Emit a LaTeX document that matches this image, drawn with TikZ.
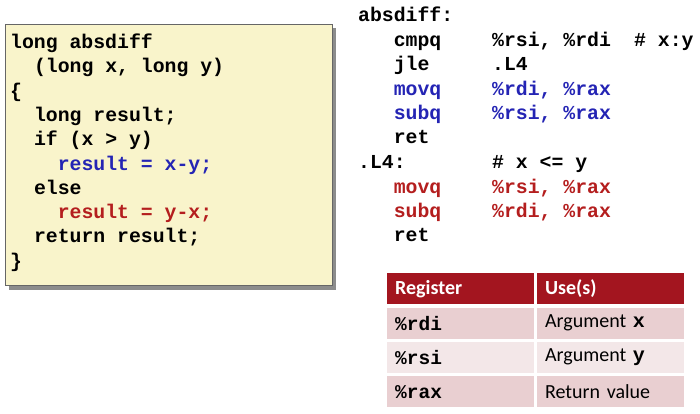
\documentclass[tikz,border=0pt]{standalone}
\usepackage{fontspec}
\usepackage{xcolor}
\usetikzlibrary{positioning}
\newfontfamily\codefont{Liberation Mono}
\newfontfamily\tabfont{Carlito}
\definecolor{codebg}{HTML}{F9F4CB}
\definecolor{codeblue}{HTML}{2424B4}
\definecolor{codered}{HTML}{B41E1E}
\definecolor{headred}{HTML}{A3151F}
\definecolor{rowdark}{HTML}{E9CFD1}
\definecolor{rowlight}{HTML}{F3E7E8}

\begin{document}
\begin{tikzpicture}[
    x=1pt, y=-1pt,
    code/.style={anchor=base west, inner sep=0pt, font=\codefont\bfseries\fontsize{19.8}{24}\selectfont},
    hcell/.style={rectangle, fill=headred, text=white, text width=131pt, align=left, inner xsep=8pt, minimum height=31pt, font=\tabfont\bfseries\fontsize{20}{24}\selectfont},
    cell/.style={rectangle, fill=rowdark, text width=131pt, align=left, inner xsep=8pt, minimum height=31pt, font=\tabfont\fontsize{20}{24}\selectfont},
    reg/.style={cell, font=\codefont\bfseries\fontsize{19.5}{24}\selectfont}
]
\useasboundingbox (0,0) rectangle (700,413);

% C source box
\fill[black!45] (8.5,27.5) rectangle (336,289.5);
\node[rectangle, draw=black!60, line width=1.2pt, fill=codebg, minimum width=327pt, minimum height=261pt, anchor=north west] (codebox) at (5,24) {};

\node[code] (fname) at (10,48.5) {long absdiff};
\node[code] (params) at (33.8,72.8) {(long x, long y)};
\node[code] (lbrace) at (10,97.1) {\{};
\node[code] (decl) at (33.8,121.4) {long result;};
\node[code] (cond) at (33.8,145.7) {if (x > y)};
\node[code, text=codeblue] (thenst) at (57.6,170) {result = x-y;};
\node[code] (elsekw) at (33.8,194.3) {else};
\node[code, text=codered] (elsest) at (57.6,218.6) {result = y-x;};
\node[code] (retst) at (33.8,242.9) {return result;};
\node[code] (rbrace) at (10,267.2) {\}};

% Assembly
\node[code] (fnlabel) at (358,21.7) {absdiff:};
\node[code] (cmp) at (393.6,46.4) {cmpq};
\node[code] (cmpop) at (492,46.4) {\%rsi, \%rdi};
\node[code] (cmpcom) at (634,46.4) {\# x:y};
\node[code] (jle) at (393.6,70.7) {jle};
\node[code] (jleop) at (492,70.7) {.L4};
\node[code, text=codeblue] (movA) at (393.6,95) {movq};
\node[code, text=codeblue] (movAop) at (492,95) {\%rdi, \%rax};
\node[code, text=codeblue] (subA) at (393.6,119.5) {subq};
\node[code, text=codeblue] (subAop) at (492,119.5) {\%rsi, \%rax};
\node[code] (retA) at (393.6,143.6) {ret};
\node[code] (lfour) at (358,168.3) {.L4:};
\node[code] (lfourcom) at (492,168.3) {\# x <= y};
\node[code, text=codered] (movB) at (393.6,193) {movq};
\node[code, text=codered] (movBop) at (492,193) {\%rsi, \%rax};
\node[code, text=codered] (subB) at (393.6,217.5) {subq};
\node[code, text=codered] (subBop) at (492,217.5) {\%rdi, \%rax};
\node[code] (retB) at (393.6,241.8) {ret};

% Register table
\node[hcell, anchor=north west] (hreg) at (387,273) {Register};
\node[hcell, right=2.5pt of hreg] (huse) {Use(s)};
\node[reg, below=3pt of hreg] (rdi) {\%rdi};
\node[cell, below=3pt of huse] (rdiuse) {Argument {\codefont\bfseries x}};
\node[reg, fill=rowlight, below=3pt of rdi] (rsi) {\%rsi};
\node[cell, fill=rowlight, below=3pt of rdiuse] (rsiuse) {Argument {\codefont\bfseries y}};
\node[reg, below=3pt of rsi] (rax) {\%rax};
\node[cell, below=3pt of rsiuse] (raxuse) {Return value};

\end{tikzpicture}
\end{document}
